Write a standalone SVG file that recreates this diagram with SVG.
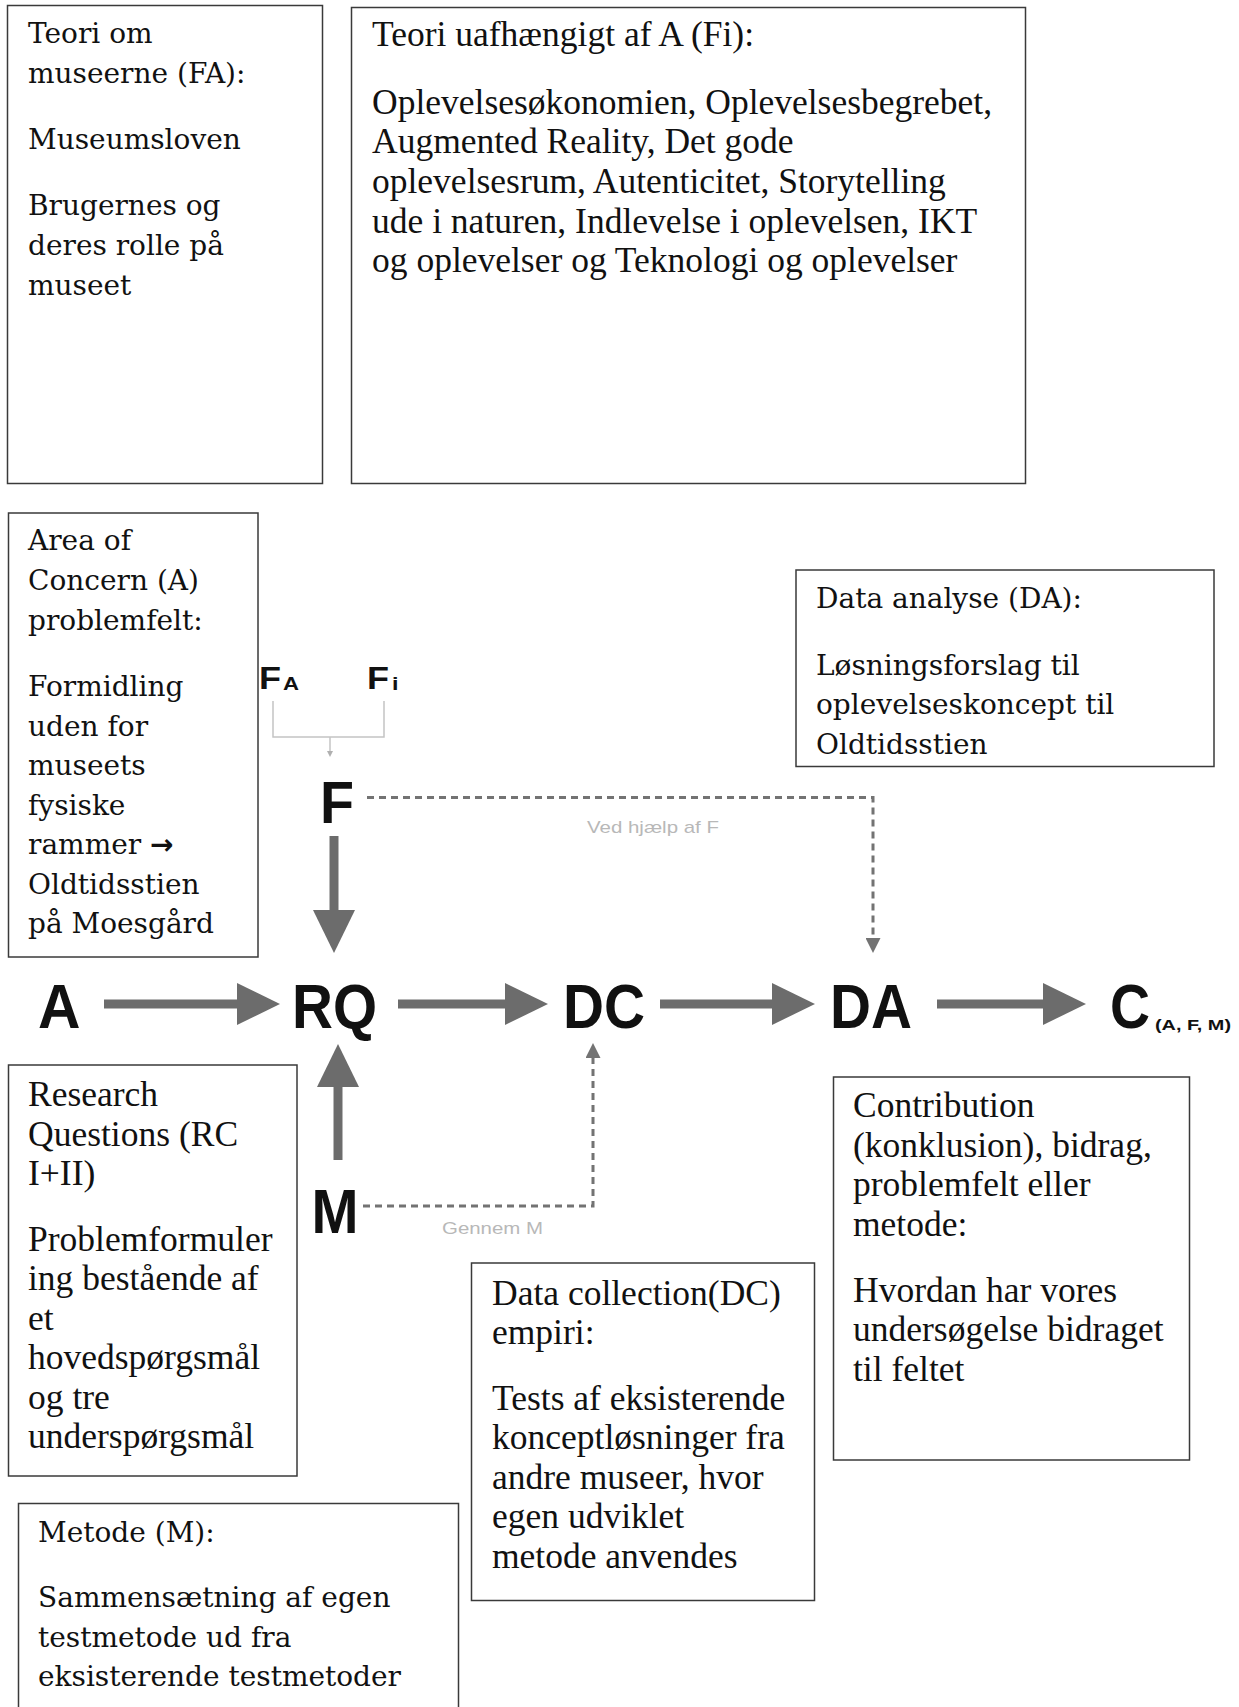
<svg xmlns="http://www.w3.org/2000/svg" width="1239" height="1707" viewBox="0 0 1239 1707">
  <style>
    .box { fill: #fff; stroke: #3a3a3a; stroke-width: 1.5; }
    .w { font-family: "DejaVu Serif", "Liberation Serif", serif; font-size: 28px; fill: #111; }
    .n { font-family: "Liberation Serif", "DejaVu Serif", serif; font-size: 35.5px; fill: #111; }
    .sym { font-family: "DejaVu Sans", sans-serif; font-weight: bold; }
    .lbl { font-family: "Liberation Sans", Arial, sans-serif; font-weight: bold; fill: #111; }
    .note { font-family: "Liberation Sans", Arial, sans-serif; font-size: 17px; fill: #b8b8b8; }
    .thick { stroke: #6c6c6c; stroke-width: 9; fill: none; }
    .dash { stroke: #737373; stroke-width: 3; stroke-dasharray: 7 5; fill: none; }
    .thin { stroke: #c4c4c4; stroke-width: 1.5; fill: none; }
  </style>
  <defs>
    <marker id="head" viewBox="0 0 43 42" markerWidth="43" markerHeight="42" refX="0" refY="21" orient="auto" markerUnits="userSpaceOnUse">
      <path d="M0,0 L43,21 L0,42 Z" fill="#6c6c6c"/>
    </marker>
    <marker id="tip" viewBox="0 0 15 15" markerWidth="15" markerHeight="15" refX="0" refY="7.5" orient="auto" markerUnits="userSpaceOnUse">
      <path d="M0,0 L15,7.5 L0,15 Z" fill="#737373"/>
    </marker>
    <marker id="small" viewBox="0 0 6 6" markerWidth="6" markerHeight="6" refX="0" refY="3" orient="auto" markerUnits="userSpaceOnUse">
      <path d="M0,0 L6,3 L0,6 Z" fill="#b0b0b0"/>
    </marker>
  </defs>
  <rect width="1239" height="1707" fill="#fff"/>

  <!-- text boxes -->
  <g id="theory-fa">
    <rect class="box" x="7.5" y="5.5" width="315" height="478"/>
    <text class="w" x="28" y="43">Teori om</text>
    <text class="w" x="28" y="83">museerne (FA):</text>
    <text class="w" x="28" y="149">Museumsloven</text>
    <text class="w" x="28" y="215">Brugernes og</text>
    <text class="w" x="28" y="255">deres rolle på</text>
    <text class="w" x="28" y="295">museet</text>
  </g>

  <g id="theory-fi">
    <rect class="box" x="351.5" y="7.5" width="674" height="476"/>
    <text class="n" x="372" y="45.5">Teori uafhængigt af A (Fi):</text>
    <text class="n" x="372" y="113.5">Oplevelsesøkonomien, Oplevelsesbegrebet,</text>
    <text class="n" x="372" y="153">Augmented Reality, Det gode</text>
    <text class="n" x="372" y="193">oplevelsesrum, Autenticitet, Storytelling</text>
    <text class="n" x="372" y="232.5">ude i naturen, Indlevelse i oplevelsen, IKT</text>
    <text class="n" x="372" y="272">og oplevelser og Teknologi og oplevelser</text>
  </g>

  <g id="area-of-concern">
    <rect class="box" x="8.5" y="513" width="249.5" height="444"/>
    <text class="w" x="28" y="550">Area of</text>
    <text class="w" x="28" y="590">Concern (A)</text>
    <text class="w" x="28" y="630">problemfelt:</text>
    <text class="w" x="28" y="696">Formidling</text>
    <text class="w" x="28" y="735.5">uden for</text>
    <text class="w" x="28" y="775">museets</text>
    <text class="w" x="28" y="814.5">fysiske</text>
    <text class="w" x="28" y="854">rammer <tspan class="sym">→</tspan></text>
    <text class="w" x="28" y="893.5">Oldtidsstien</text>
    <text class="w" x="28" y="933">på Moesgård</text>
  </g>

  <g id="data-analysis">
    <rect class="box" x="796" y="570" width="418" height="196.5"/>
    <text class="w" x="816" y="608">Data analyse (DA):</text>
    <text class="w" x="816" y="675">Løsningsforslag til</text>
    <text class="w" x="816" y="714">oplevelseskoncept til</text>
    <text class="w" x="816" y="753.5">Oldtidsstien</text>
  </g>

  <g id="research-questions">
    <rect class="box" x="8.5" y="1065" width="288.5" height="411"/>
    <text class="n" x="28" y="1106">Research</text>
    <text class="n" x="28" y="1145.5">Questions (RC</text>
    <text class="n" x="28" y="1185">I+II)</text>
    <text class="n" x="28" y="1250.5">Problemformuler</text>
    <text class="n" x="28" y="1290">ing bestående af</text>
    <text class="n" x="28" y="1329.5">et</text>
    <text class="n" x="28" y="1369">hovedspørgsmål</text>
    <text class="n" x="28" y="1408.5">og tre</text>
    <text class="n" x="28" y="1448">underspørgsmål</text>
  </g>

  <g id="data-collection">
    <rect class="box" x="471.5" y="1263" width="343" height="337.5"/>
    <text class="n" x="492" y="1304.5">Data collection(DC)</text>
    <text class="n" x="492" y="1343.5">empiri:</text>
    <text class="n" x="492" y="1409.5">Tests af eksisterende</text>
    <text class="n" x="492" y="1449">konceptløsninger fra</text>
    <text class="n" x="492" y="1488.5">andre museer, hvor</text>
    <text class="n" x="492" y="1528">egen udviklet</text>
    <text class="n" x="492" y="1567.5">metode anvendes</text>
  </g>

  <g id="contribution">
    <rect class="box" x="833.5" y="1077" width="356" height="383"/>
    <text class="n" x="853" y="1117">Contribution</text>
    <text class="n" x="853" y="1156.5">(konklusion), bidrag,</text>
    <text class="n" x="853" y="1196">problemfelt eller</text>
    <text class="n" x="853" y="1235.5">metode:</text>
    <text class="n" x="853" y="1301.5">Hvordan har vores</text>
    <text class="n" x="853" y="1341">undersøgelse bidraget</text>
    <text class="n" x="853" y="1380.5">til feltet</text>
  </g>

  <g id="method">
    <rect class="box" x="18.5" y="1503.5" width="440" height="230"/>
    <text class="w" x="38" y="1541.5">Metode (M):</text>
    <text class="w" x="38" y="1607">Sammensætning af egen</text>
    <text class="w" x="38" y="1647">testmetode ud fra</text>
    <text class="w" x="38" y="1686">eksisterende testmetoder</text>
  </g>

  <!-- process labels -->
  <g id="node-fa">
    <text class="lbl" x="259" y="689" font-size="31" textLength="22" lengthAdjust="spacingAndGlyphs">F</text>
    <text class="lbl" x="283" y="690" font-size="18" textLength="16" lengthAdjust="spacingAndGlyphs">A</text>
  </g>
  <g id="node-fi">
    <text class="lbl" x="367" y="689" font-size="31" textLength="22" lengthAdjust="spacingAndGlyphs">F</text>
    <text class="lbl" x="392" y="690" font-size="18" textLength="6.5" lengthAdjust="spacingAndGlyphs">i</text>
  </g>
  <g id="node-f">
    <text class="lbl" x="320" y="823" font-size="60" textLength="34" lengthAdjust="spacingAndGlyphs">F</text>
  </g>
  <g id="node-a">
    <text class="lbl" x="38" y="1028" font-size="63" textLength="42.5" lengthAdjust="spacingAndGlyphs">A</text>
  </g>
  <g id="node-rq">
    <text class="lbl" x="292" y="1028" font-size="63" textLength="85" lengthAdjust="spacingAndGlyphs">RQ</text>
  </g>
  <g id="node-dc">
    <text class="lbl" x="563" y="1028" font-size="63" textLength="82" lengthAdjust="spacingAndGlyphs">DC</text>
  </g>
  <g id="node-da">
    <text class="lbl" x="830" y="1028" font-size="63" textLength="82" lengthAdjust="spacingAndGlyphs">DA</text>
  </g>
  <g id="node-c">
    <text class="lbl" x="1110" y="1028" font-size="63" textLength="40" lengthAdjust="spacingAndGlyphs">C</text>
    <text class="lbl" x="1155" y="1030" font-size="14.5" textLength="76" lengthAdjust="spacingAndGlyphs">(A, F, M)</text>
  </g>
  <g id="node-m">
    <text class="lbl" x="311.5" y="1233" font-size="63" textLength="47" lengthAdjust="spacingAndGlyphs">M</text>
  </g>

  <!-- connectors -->
  <g id="connectors">
    <path class="thin" d="M273,701 V737 H384 V701"/>
    <path class="thin" d="M330,737 V751" marker-end="url(#small)"/>

    <path class="thick" d="M334,836 V910" marker-end="url(#head)"/>
    <path class="thick" d="M338,1160 V1087" marker-end="url(#head)"/>

    <path class="thick" d="M104,1004 H237" marker-end="url(#head)"/>
    <path class="thick" d="M398,1004 H505" marker-end="url(#head)"/>
    <path class="thick" d="M660,1004 H772" marker-end="url(#head)"/>
    <path class="thick" d="M937,1004 H1043" marker-end="url(#head)"/>

    <path class="dash" d="M367,797.5 H873 V938" marker-end="url(#tip)"/>
    <path class="dash" d="M363,1206 H593 V1058" marker-end="url(#tip)"/>

    <text class="note" x="587" y="833" textLength="132" lengthAdjust="spacingAndGlyphs">Ved hjælp af F</text>
    <text class="note" x="442" y="1234" textLength="101" lengthAdjust="spacingAndGlyphs">Gennem M</text>
  </g>
</svg>
